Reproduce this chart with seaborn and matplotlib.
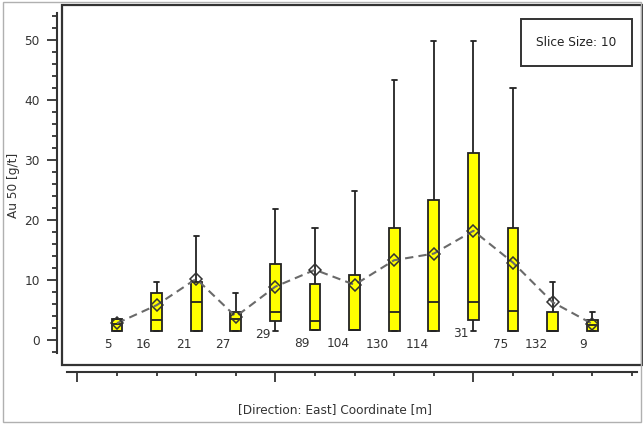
import numpy as np
import pandas as pd
import matplotlib
matplotlib.use("Agg")
import matplotlib.pyplot as plt
from matplotlib.patches import Rectangle
from matplotlib.ticker import MultipleLocator, FixedLocator, NullFormatter
import seaborn as sns

# Five-number summaries per slice (g/t), sample counts and slice means
slices = [str(i) for i in range(13)]
whisker_low = [1.5, 1.5, 1.5, 1.5, 1.5, 1.6, 1.6, 1.5, 1.5, 1.5, 1.5, 1.5, 1.5]
q1 = [1.5, 1.5, 1.5, 1.5, 3.2, 1.6, 1.6, 1.5, 1.5, 3.3, 1.5, 1.5, 1.5]
median = [2.6, 3.4, 6.4, 3.5, 4.7, 3.2, 1.6, 4.7, 6.3, 6.4, 4.8, 1.5, 2.5]
q3 = [3.5, 7.9, 9.6, 4.7, 12.7, 9.4, 10.9, 18.6, 23.4, 31.1, 18.6, 4.7, 3.4]
whisker_high = [3.5, 9.6, 17.3, 7.9, 21.8, 18.6, 24.8, 43.3, 49.9, 49.9, 42.0, 9.6, 4.7]
means = [2.8, 5.8, 10.2, 3.9, 8.9, 11.7, 9.2, 13.3, 14.4, 18.2, 12.9, 6.3, 2.7]
counts = [5, 16, 21, 27, 29, 89, 104, 130, 114, 31, 75, 132, 9]

records = []
for s, lo, a, m, b, hi in zip(slices, whisker_low, q1, median, q3, whisker_high):
    for v in (lo, a, m, b, hi):
        records.append({"slice": s, "value": v})
df = pd.DataFrame(records)

sns.set_style("white")
plt.rcParams["font.family"] = ["DejaVu Sans"]

W, H = 643, 425
fig = plt.figure(figsize=(W / 100, H / 100), dpi=100)
# plot frame in pixel coordinates
L, R, T, B = 62, 642, 5, 365
ax = fig.add_axes([L / W, (H - B) / H, (R - L) / W, (B - T) / H])

ink = "#222222"
sns.boxplot(data=df, x="slice", y="value", order=slices, ax=ax,
            color="#FFFF00", saturation=1, width=0.27, whis=(0, 100),
            linecolor=ink, linewidth=1.3, fliersize=0)

sns.lineplot(x=np.arange(len(slices)), y=means, ax=ax, color="#6a6a6a",
             linestyle=(0, (4, 2.5)), linewidth=1.5, marker="D", markersize=6.5,
             markerfacecolor="none", markeredgecolor="#333333",
             markeredgewidth=1.1, zorder=5)

for i, (a, n) in enumerate(zip(q1, counts)):
    ax.annotate(str(n), xy=(i, a), xytext=(-3.6, -9.7), textcoords="offset points",
                ha="right", va="center", fontsize=8.7, color="#333333")

x0 = 117.0
dx = 39.6
ax.set_xlim((L - x0) / dx, (R - x0) / dx)
ax.set_ylim((340 - B) / 6, (340 - T) / 6)

# frame around the plotting area
ax.add_patch(Rectangle((0, 0), 1, 1, transform=ax.transAxes, fill=False,
                       lw=1.6, edgecolor="#333333", clip_on=False, zorder=10))

for side in ("top", "right"):
    ax.spines[side].set_visible(False)
ax.spines["left"].set_position(("outward", 3.6))
ax.spines["bottom"].set_position(("outward", 5.0))
ax.spines["left"].set_bounds(-2.2, 54.5)
ax.spines["bottom"].set_bounds((67 - x0) / dx, (637 - x0) / dx)
for side in ("left", "bottom"):
    ax.spines[side].set_color("#333333")
    ax.spines[side].set_linewidth(1.5)

ax.yaxis.set_major_locator(MultipleLocator(10))
ax.yaxis.set_minor_locator(FixedLocator(np.arange(-2, 55, 2)))
ax.set_yticks([0, 10, 20, 30, 40, 50])
ax.tick_params(axis="y", which="major", length=7.5, width=1.3, color="#333333",
               labelsize=8.7, labelcolor="#333333", pad=5, left=True)
ax.tick_params(axis="y", which="minor", length=3.6, width=1.3, color="#333333", left=True)

ax.xaxis.set_major_locator(FixedLocator([-1, 4, 9]))
ax.xaxis.set_minor_locator(FixedLocator(np.arange(-1, 14, 1)))
ax.xaxis.set_major_formatter(NullFormatter())
ax.tick_params(axis="x", which="major", length=7.5, width=1.3, color="#333333", bottom=True)
ax.tick_params(axis="x", which="minor", length=3.0, width=1.3, color="#333333", bottom=True)
ax.set_xlabel("")
ax.set_ylabel("")

fig.text(14 / W, (H - 185) / H, "Au 50 [g/t]", rotation=90, ha="center", va="center",
         fontsize=8.7, color="#333333")
fig.text(335 / W, (H - 410) / H, "[Direction: East] Coordinate [m]", ha="center",
         va="center", fontsize=8.7, color="#333333")

# slice size legend box
fig.add_artist(Rectangle((521 / W, (H - 66) / H), 111 / W, 47 / H,
                         transform=fig.transFigure, fill=False, lw=1.4,
                         edgecolor="#333333"))
fig.text(576 / W, (H - 42) / H, "Slice Size: 10", ha="center", va="center",
         fontsize=8.7, color="#222222")

# outer panel border
fig.add_artist(Rectangle((3 / W, (H - 422) / H), 638 / W, 420 / H,
                         transform=fig.transFigure, fill=False, lw=1.0,
                         edgecolor="#b0b0b0"))

fig.savefig("out.png", dpi=100)
